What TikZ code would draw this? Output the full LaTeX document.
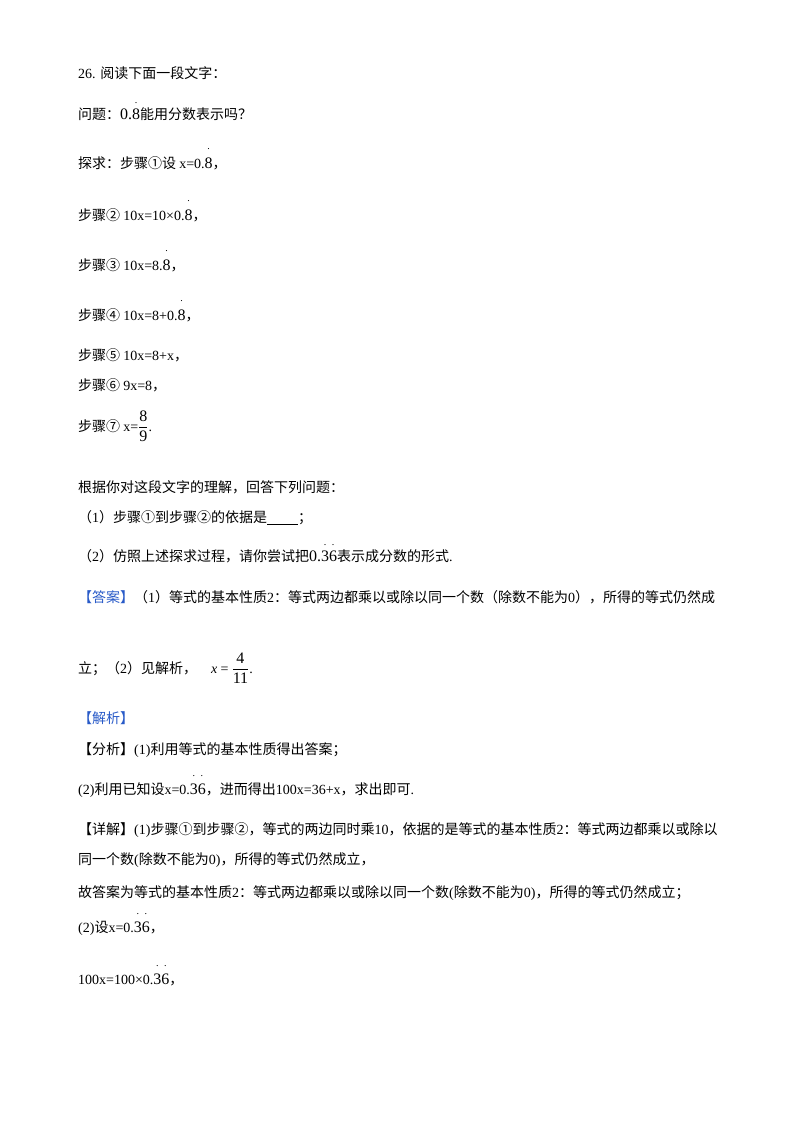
\documentclass[tikz,border=0pt]{standalone}
\usepackage{fontspec}
\setmainfont{Noto Sans CJK SC}
\newfontfamily\lt{Liberation Serif}
\newcommand\dd[1]{\ooalign{{\lt #1}\cr\hidewidth\raisebox{2.1ex}{\lt\fontsize{10}{10}\selectfont .}\hidewidth\cr}}
\newcommand\fr[2]{$\displaystyle\frac{\hbox{\lt\fontsize{16}{16}\selectfont #1}}{\hbox{\lt\fontsize{16}{16}\selectfont #2}}$}
\definecolor{ansblue}{RGB}{40,90,200}
\begin{document}
\begin{tikzpicture}[x=1pt,y=-1pt,
  tl/.style={anchor=west,inner sep=0pt,font=\fontsize{14}{16}\selectfont}]
\useasboundingbox[fill=white] (0,0) rectangle (800,1132);
\node[tl] (l1) at (78,73) {{\lt 26. }阅读下面一段文字：};
\node[tl] (l2) at (78,114) {问题：{\lt\fontsize{16}{16}\selectfont 0.\dd{8}}能用分数表示吗？};
\node[tl] (l3) at (78,163) {探求：步骤①设 {\lt x=0.}{\fontsize{16}{16}\selectfont\dd{8}}，};
\node[tl] (l4) at (78,215) {步骤② {\lt 10x=10×0.}{\fontsize{16}{16}\selectfont\dd{8}}，};
\node[tl] (l5) at (78,265) {步骤③ {\lt 10x=8.}{\fontsize{16}{16}\selectfont\dd{8}}，};
\node[tl] (l6) at (78,315) {步骤④ {\lt 10x=8+0.}{\fontsize{16}{16}\selectfont\dd{8}}，};
\node[tl] (l7) at (78,355) {步骤⑤ {\lt 10x=8+x}，};
\node[tl] (l8) at (78,385) {步骤⑥ {\lt 9x=8}，};
\node[tl] (l9) at (78,426) {步骤⑦ {\lt x=}\fr{8}{9}{\lt .}};
\node[tl] (l10) at (78,487) {根据你对这段文字的理解，回答下列问题：};
\node[tl] (l11) at (78,518) {（{\lt 1}）步骤①到步骤②的依据是\underline{\hspace{2.2em}}；};
\node[tl] (l12) at (78,556) {（{\lt 2}）仿照上述探求过程，请你尝试把{\fontsize{16}{16}\selectfont\lt 0.\dd{3}\dd{6}}表示成分数的形式{\lt .}};
\node[tl] (l13) at (78,597) {\textcolor{ansblue}{【答案】}（{\lt 1}）等式的基本性质{\lt 2}：等式两边都乘以或除以同一个数（除数不能为{\lt 0}），所得的等式仍然成};
\node[tl] (l14) at (78,668) {立；（{\lt 2}）见解析，\quad {\lt\itshape x} {\lt =} \fr{4}{11}{\lt .}};
\node[tl] (l15) at (78,718) {\textcolor{ansblue}{【解析】}};
\node[tl] (l16) at (78,750) {【分析】{\lt (1)}利用等式的基本性质得出答案；};
\node[tl] (l17) at (78,790) {{\lt (2)}利用已知设{\lt x=0.}{\fontsize{16}{16}\selectfont\dd{3}\dd{6}}，进而得出{\lt 100x=36+x}，求出即可{\lt .}};
\node[tl] (l18) at (78,830) {【详解】{\lt (1)}步骤①到步骤②，等式的两边同时乘{\lt 10}，依据的是等式的基本性质{\lt 2}：等式两边都乘以或除以};
\node[tl] (l19) at (78,860) {同一个数{\lt (}除数不能为{\lt 0)}，所得的等式仍然成立，};
\node[tl] (l20) at (78,893) {故答案为等式的基本性质{\lt 2}：等式两边都乘以或除以同一个数{\lt (}除数不能为{\lt 0)}，所得的等式仍然成立；};
\node[tl] (l21) at (78,928) {{\lt (2)}设{\lt x=0.}{\fontsize{16}{16}\selectfont\dd{3}\dd{6}}，};
\node[tl] (l22) at (78,980) {{\lt 100x=100×0.}{\fontsize{16}{16}\selectfont\dd{3}\dd{6}}，};
\end{tikzpicture}
\end{document}
